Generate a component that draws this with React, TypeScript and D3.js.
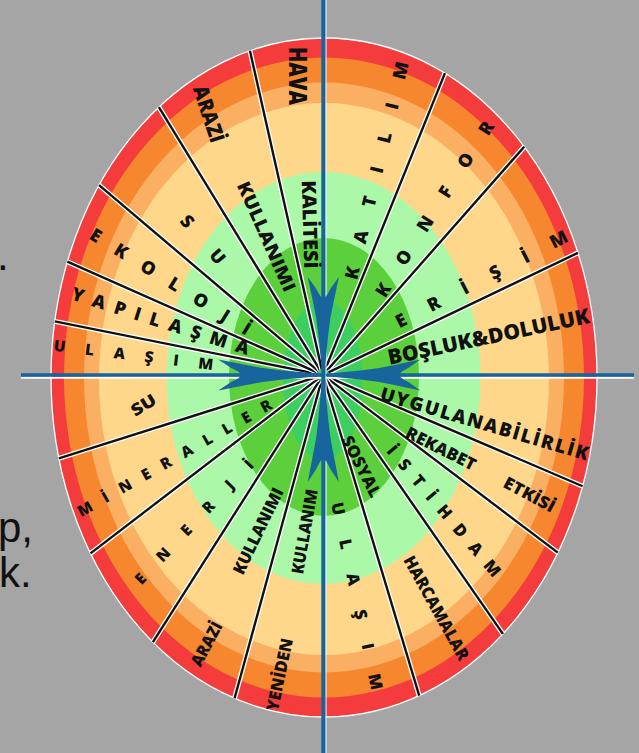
import React from "react";
import * as d3 from "d3";

const W = 639;
const H = 753;

// Bearings (deg, clockwise from north) of the black sector spokes
const spokeBearings = [22.0, 41.4, 64.4, 113.2, 127.1, 145.2, 163.3, 195.3, 212.5, 232.5, 252.5, 281.3, 293.9, 310.3, 328.5, 347.3];

// Rings from outside to inside
const ringColors = ["#f33c3b", "#f7872f", "#fbaf62", "#fed78b", "#abf8a9", "#5ccf3d", "#3ccf60"];
const ringRx = [273, 260, 240, 225, 157, 95, 40];
const ringRy = [339.5, 320, 295, 276, 206, 139, 80];
const ringCx = [324, 324, 324, 324, 323.5, 324, 323];
const ringCy = [377.5, 377.5, 377.5, 379, 378, 377, 380];

// Labels (text) and their layout (first letter centre -> last letter centre, cap height, spaced?)
const labelTexts = [
  "HAVA", "KALİTESİ", "ARAZİ", "KULLANIMI", "SU", "EKOLOJİ", "YAPILAŞMA", "ULAŞIM",
  "KATILIM", "KONFOR", "ERİŞİM", "BOŞLUK&DOLULUK",
  "UYGULANABİLİRLİK", "REKABET", "ETKİSİ", "İSTİHDAM", "SOSYAL", "HARCAMALAR", "ULAŞIM",
  "SU", "MİNERALLER", "ENERJİ", "ARAZİ", "KULLANIMI", "YENİDEN", "KULLANIM",
];
const labelLayout: [number, number, number, number, number, boolean][] = [
  [297, 55, 297, 97, 17, false],
  [309, 187, 311, 262, 14, false],
  [202, 93, 216, 135, 15, false],
  [245, 188, 288, 285, 13, false],
  [188, 222, 218, 257, 13, true],
  [97, 236, 244, 327, 13, true],
  [78, 295, 243, 347, 13, true],
  [59, 346, 208, 364, 11, true],
  [352, 273, 401, 68, 13, true],
  [383, 290, 486, 128, 13, true],
  [402, 320, 561, 238, 13, true],
  [395, 356, 582, 317, 15, false],
  [387, 395, 582, 452, 13.5, true],
  [412, 434, 470, 463, 12, false],
  [510, 484, 549, 505, 12, false],
  [394, 452, 494, 570, 12, true],
  [349, 442, 374, 491, 12, false],
  [411, 562, 462, 654, 12, false],
  [338, 508, 376, 684, 12, true],
  [137, 409, 150, 401, 12, false],
  [83, 510, 266, 406, 11, true],
  [141, 578, 247, 466, 11, true],
  [198, 660, 215, 628, 12, false],
  [240, 568, 276, 494, 12, false],
  [273, 705, 286, 644, 12, false],
  [298, 568, 311, 495, 12, false],
];

// Four blue arrows (up, right, down, left) and their lengths
const arrowBearings = [0, 90, 180, 270];
const arrowLengths = [98, 97, 107, 105];

// Background slide text fragments
const slideTexts = [".", "p,", "k."];
const slideBaselines = [270, 542, 587];
const slideX = [-3, -2, -1];

const origin = { x: 323, y: 375 };
const blue = "#17659c";

function spokeEnd(b: number) {
  const ux = Math.sin((b * Math.PI) / 180);
  const uy = -Math.cos((b * Math.PI) / 180);
  const rx = ringRx[0], ry = ringRy[0];
  const ox = origin.x - ringCx[0], oy = origin.y - ringCy[0];
  const A = (ux * ux) / (rx * rx) + (uy * uy) / (ry * ry);
  const B = 2 * ((ox * ux) / (rx * rx) + (oy * uy) / (ry * ry));
  const C = (ox * ox) / (rx * rx) + (oy * oy) / (ry * ry) - 1;
  const t = (-B + Math.sqrt(B * B - 4 * A * C)) / (2 * A);
  return { x: origin.x + t * ux, y: origin.y + t * uy, ux, uy };
}

// arrow profile: [distance from centre, half width], unit length 104
const arrowProfile: [number, number][] = [
  [3, 1], [20, 2.8], [40, 4.6], [60, 7], [75, 9.8], [90, 12.8], [104, 15.5], [92, 7.5], [84, 3.2], [81, 0],
];

function arrowPath(L: number) {
  const s = L / 104;
  const pts: [number, number][] = [];
  arrowProfile.forEach(([d, w]) => pts.push([w, -d * s]));
  for (let i = arrowProfile.length - 2; i >= 0; i--) {
    const [d, w] = arrowProfile[i];
    pts.push([-w, -d * s]);
  }
  return d3.line().curve(d3.curveLinear)(pts) + "Z";
}

export default function App() {
  const font = "'Open Sans', 'DejaVu Sans', sans-serif";
  return (
    <svg width={W} height={H} viewBox={`0 0 ${W} ${H}`} style={{ display: "block", position: "absolute", left: 0, top: 0 }}>
      <rect x={0} y={0} width={W} height={H} fill="#a5a5a5" />
      {slideTexts.map((t, i) => (
        <text key={"s" + i} x={slideX[i]} y={slideBaselines[i]} fontFamily="'Liberation Sans', Arial, sans-serif" fontSize={42} fill="#111">
          {t}
        </text>
      ))}
      {ringColors.map((c, i) => (
        <ellipse key={"r" + i} cx={ringCx[i]} cy={ringCy[i]} rx={ringRx[i]} ry={ringRy[i]} fill={c}
          stroke={i === 0 ? "#ffffff" : "none"} strokeWidth={i === 0 ? 1.3 : 0} />
      ))}
      {spokeBearings.map((b, i) => {
        const e = spokeEnd(b);
        const x0 = origin.x + e.ux * 6, y0 = origin.y + e.uy * 6;
        return (
          <g key={"sp" + i}>
            <line x1={x0} y1={y0} x2={e.x} y2={e.y} stroke="#ffffff" strokeWidth={5} />
            <line x1={x0} y1={y0} x2={e.x} y2={e.y} stroke="#111" strokeWidth={2.4} />
          </g>
        );
      })}
      {labelTexts.map((t, i) => {
        const [x1, y1, x2, y2, cap, spaced] = labelLayout[i];
        const fs = cap / 0.714;
        const dist = Math.hypot(x2 - x1, y2 - y1);
        const ang = (Math.atan2(y2 - y1, x2 - x1) * 180) / Math.PI;
        const mx = (x1 + x2) / 2, my = (y1 + y2) / 2;
        const len = dist + 0.68 * fs;
        return (
          <text key={"l" + i} x={mx} y={my + cap / 2} textAnchor="middle" fontFamily={font} fontWeight={800}
            fontSize={fs} fill="#111" textLength={len} lengthAdjust={spaced ? "spacing" : "spacingAndGlyphs"}
            transform={`rotate(${ang} ${mx} ${my})`}>
            {t}
          </text>
        );
      })}
      {/* cross lines */}
      <line x1={21} y1={377.8} x2={634} y2={377.8} stroke="#ffffff" strokeWidth={2} />
      <line x1={21} y1={375} x2={634} y2={375} stroke={blue} strokeWidth={3.6} />
      <line x1={326} y1={0} x2={326} y2={H} stroke="#dfefff" strokeWidth={1.2} />
      <line x1={323.3} y1={0} x2={323.3} y2={H} stroke={blue} strokeWidth={4} />
      {arrowBearings.map((b, i) => (
        <path key={"a" + i} d={arrowPath(arrowLengths[i])} fill={blue}
          transform={`translate(${origin.x + 0.3} ${origin.y}) rotate(${b})`} />
      ))}
    </svg>
  );
}
